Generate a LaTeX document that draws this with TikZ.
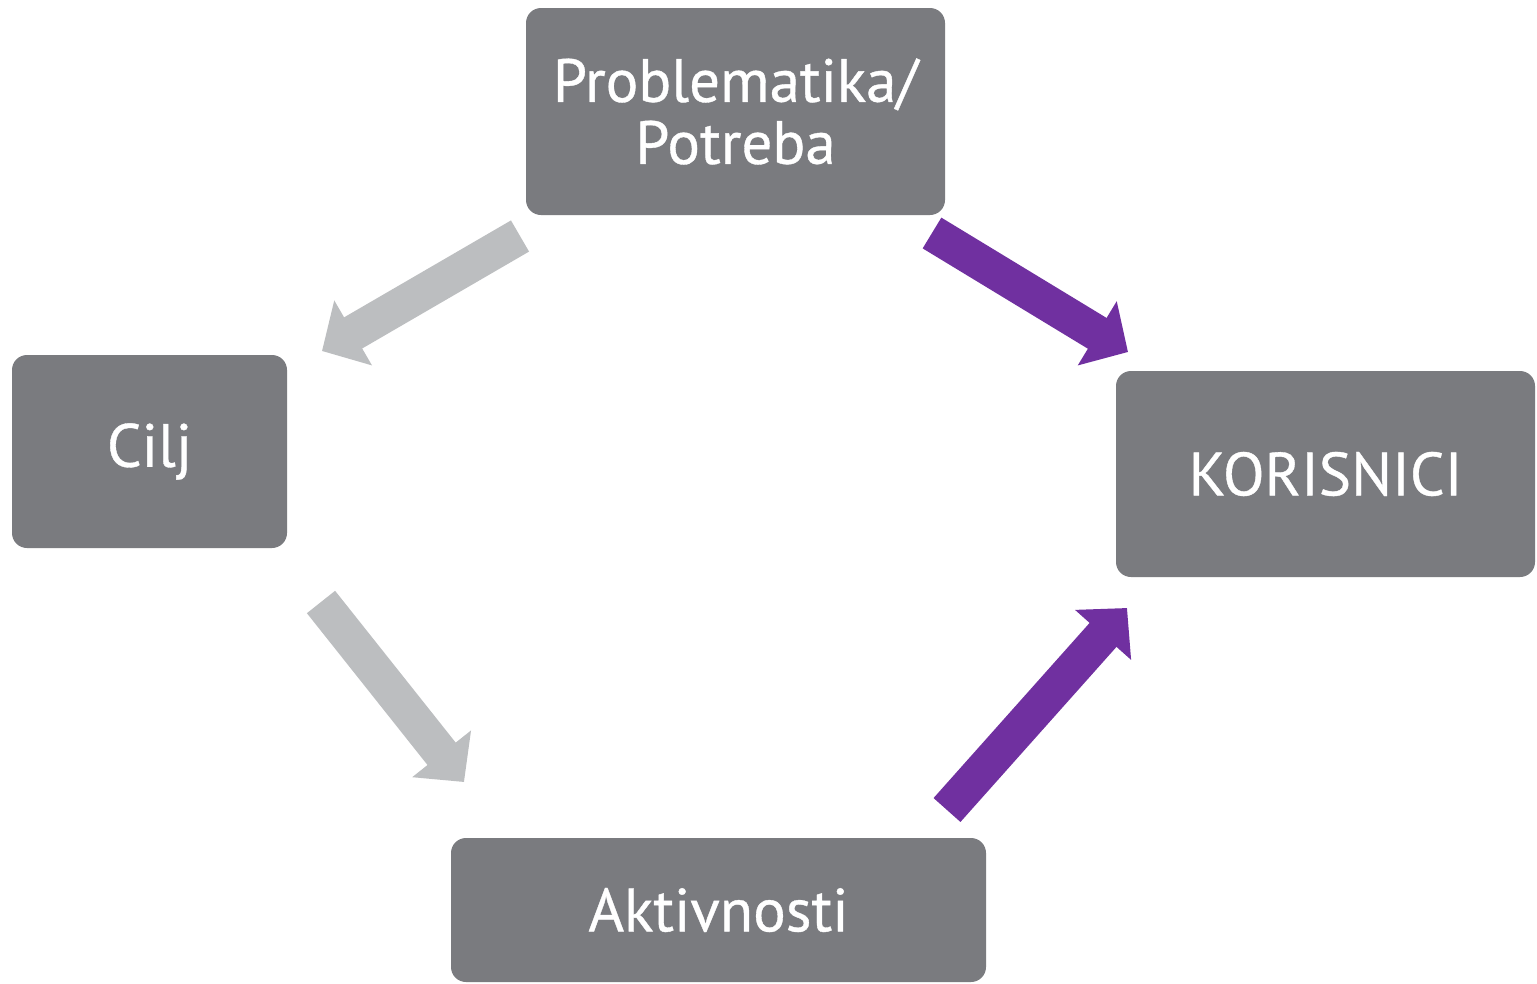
\documentclass[tikz,border=0pt]{standalone}
\usepackage{fontspec}
\setmainfont{PT Sans}[FakeBold=0.6]
\usetikzlibrary{arrows.meta}
\definecolor{boxgray}{HTML}{7A7B7F}
\definecolor{arrgray}{HTML}{BCBEC0}
\definecolor{arrpurple}{HTML}{7030A0}
\tikzset{
  stepbox/.style={fill=boxgray, draw=none, rounded corners=15pt, text=white,
    font=\fontsize{61}{62}\selectfont, align=center, inner sep=0pt},
  bigarrow/.style={line width=36pt, line cap=butt,
    -{Triangle[length=36pt 0 0, width=73pt 0 0]}},
  grayarrow/.style={bigarrow, draw=arrgray},
  purplearrow/.style={bigarrow, draw=arrpurple},
}
\begin{document}
\begin{tikzpicture}[x=1pt,y=-1pt]
\useasboundingbox[fill=white] (0,0) rectangle (1537,983);
\node[stepbox, minimum width=419pt, minimum height=207pt] (prob) at (735.5,111.5) {Problematika/\\Potreba};
\node[stepbox, minimum width=275pt, minimum height=193pt] (cilj) at (149.5,451.5) {Cilj};
\node[stepbox, minimum width=419pt, minimum height=206pt] (kor) at (1325.5,474) {KORISNICI};
\node[stepbox, minimum width=535pt, minimum height=144pt] (akt) at (718.5,910) {Aktivnosti};
% arrow ends
\coordinate (a1s) at (520,236);
\coordinate (a1e) at (322,351);
\coordinate (a2s) at (932,233);
\coordinate (a2e) at (1128,352);
\coordinate (a3s) at (321,602);
\coordinate (a3e) at (464,782);
\coordinate (a4s) at (947,810);
\coordinate (a4e) at (1127,608);
\draw[grayarrow] (a1s) -- (a1e);
\draw[purplearrow] (a2s) -- (a2e);
\draw[grayarrow] (a3s) -- (a3e);
\draw[purplearrow] (a4s) -- (a4e);
\end{tikzpicture}
\end{document}
